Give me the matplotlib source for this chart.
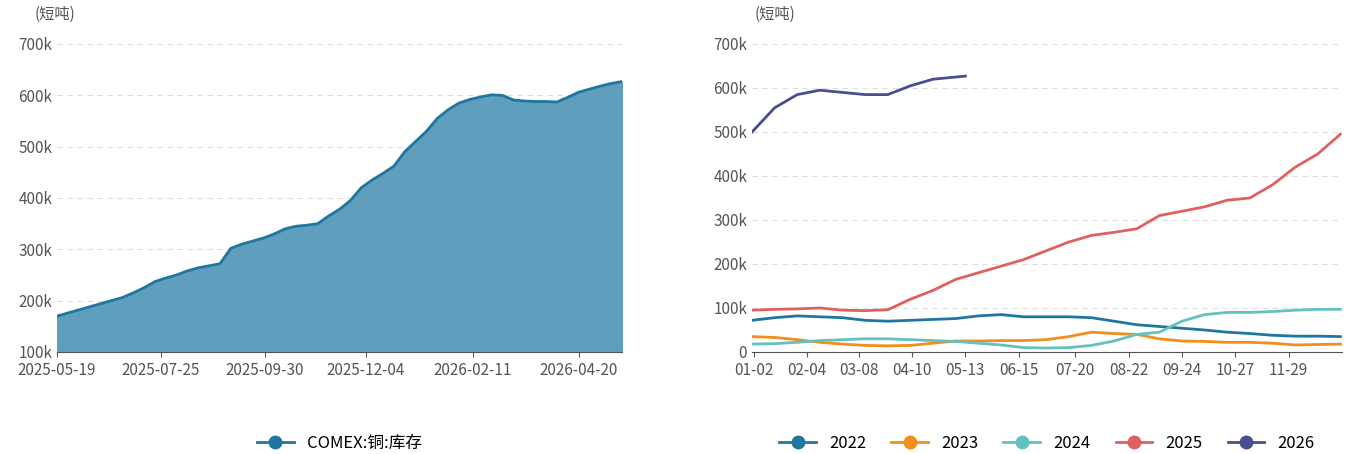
import numpy as np
import pandas as pd
import matplotlib.pyplot as plt

plt.rcParams['font.family'] = ['Noto Sans CJK SC', 'DejaVu Sans']

# left: COMEX copper inventory, weekly (k short tons)
left_dates = pd.date_range('2025-05-19', periods=53, freq='7D')
left_vals = [170, 176, 182, 188, 194, 200, 206, 215, 225, 237, 244, 250, 258, 264, 268, 272,
             302, 310, 316, 322, 330, 340, 345, 347, 350, 365, 378, 395, 420, 435, 448, 462,
             490, 510, 530, 555, 572, 585, 592, 597, 601, 600, 591, 589, 588, 588, 587, 596,
             606, 612, 618, 623, 627]
left_ticks = ['2025-05-19', '2025-07-25', '2025-09-30', '2025-12-04', '2026-02-11', '2026-04-20']

# right: seasonal comparison, every 14 days (day of year)
season = {
    '2022': [72, 78, 82, 80, 78, 72, 70, 72, 74, 76, 82, 85, 80, 80, 80, 78, 70, 62, 58, 54,
             50, 45, 42, 38, 36, 36, 35],
    '2023': [35, 33, 28, 22, 18, 15, 14, 15, 20, 25, 25, 26, 26, 28, 35, 45, 42, 40, 30, 25,
             24, 22, 22, 20, 16, 17, 18],
    '2024': [18, 19, 22, 26, 28, 30, 30, 28, 26, 24, 20, 16, 10, 9, 10, 15, 25, 40, 45, 70,
             85, 90, 90, 92, 95, 97, 97],
    '2025': [95, 97, 98, 100, 95, 94, 96, 120, 140, 165, 180, 195, 210, 230, 250, 265, 272,
             280, 310, 320, 330, 345, 350, 380, 420, 450, 495],
    '2026': [500, 555, 585, 595, 590, 585, 585, 605, 620, 627],
}
colors = {'2022': '#1f77a0', '2023': '#f28e1c', '2024': '#62c2bf',
          '2025': '#e06060', '2026': '#4a4e8e'}
right_ticks = ['01-02', '02-04', '03-08', '04-10', '05-13', '06-15', '07-20', '08-22',
               '09-24', '10-27', '11-29']

fig = plt.figure(figsize=(13.56, 4.54), dpi=100)
W, H = 1356, 454
axl = fig.add_axes([57 / W, (H - 352) / H, 565 / W, 308 / H])
axr = fig.add_axes([752 / W, (H - 352) / H, 590 / W, 308 / H])

def style(ax):
    for s in ['top', 'right', 'left']:
        ax.spines[s].set_visible(False)
    ax.spines['bottom'].set_color('#555555')
    ax.grid(axis='y', color='#dddddd', linestyle=(0, (5, 4)))
    ax.set_axisbelow(True)
    ax.tick_params(axis='y', length=0, labelsize=11, colors='#555555')
    ax.tick_params(axis='x', labelsize=11, colors='#555555', color='#555555')

# left
lv = np.array(left_vals) * 1000
axl.fill_between(left_dates, lv, 100000, color='#5f9ebd')
axl.plot(left_dates, lv, color='#1f77a0', lw=2, label='COMEX:铜:库存')
axl.set_xlim(left_dates[0], left_dates[-1])
axl.set_ylim(100000, 700000)
axl.set_yticks(np.arange(100000, 700001, 100000))
axl.set_yticklabels([f'{v // 1000}k' for v in range(100000, 700001, 100000)])
axl.set_xticks(pd.to_datetime(left_ticks))
axl.set_xticklabels(left_ticks)
style(axl)
fig.text(35 / W, (H - 14) / H, '(短吨)', fontsize=11, color='#555555', va='center')
axl.legend(loc='upper center', bbox_to_anchor=(0.5, -0.22), frameon=False, fontsize=12,
           handlelength=2.2, markerscale=1)
for line in axl.get_legend().get_lines():
    line.set_marker('o'); line.set_markersize(9)

# right
for name, vals in season.items():
    days = np.arange(len(vals)) * 14 + 1
    if name == '2026':
        days[-1] = 133
    axr.plot(days, np.array(vals) * 1000, color=colors[name], lw=2, label=name,
             marker='o', markersize=0)
axr.set_xlim(1, 366)
axr.set_ylim(0, 700000)
axr.set_yticks(np.arange(0, 700001, 100000))
axr.set_yticklabels(['0'] + [f'{v // 1000}k' for v in range(100000, 700001, 100000)])
tick_days = [pd.Timestamp('2022-' + t).dayofyear for t in right_ticks]
axr.set_xticks(tick_days)
axr.set_xticklabels(right_ticks)
style(axr)
fig.text(755 / W, (H - 14) / H, '(短吨)', fontsize=11, color='#555555', va='center')
leg = axr.legend(loc='upper center', bbox_to_anchor=(0.5, -0.22), frameon=False, fontsize=12,
                 ncol=5, handlelength=2.2, columnspacing=1.5)
for line in leg.get_lines():
    line.set_markersize(9)

fig.savefig('out.png', dpi=100)
